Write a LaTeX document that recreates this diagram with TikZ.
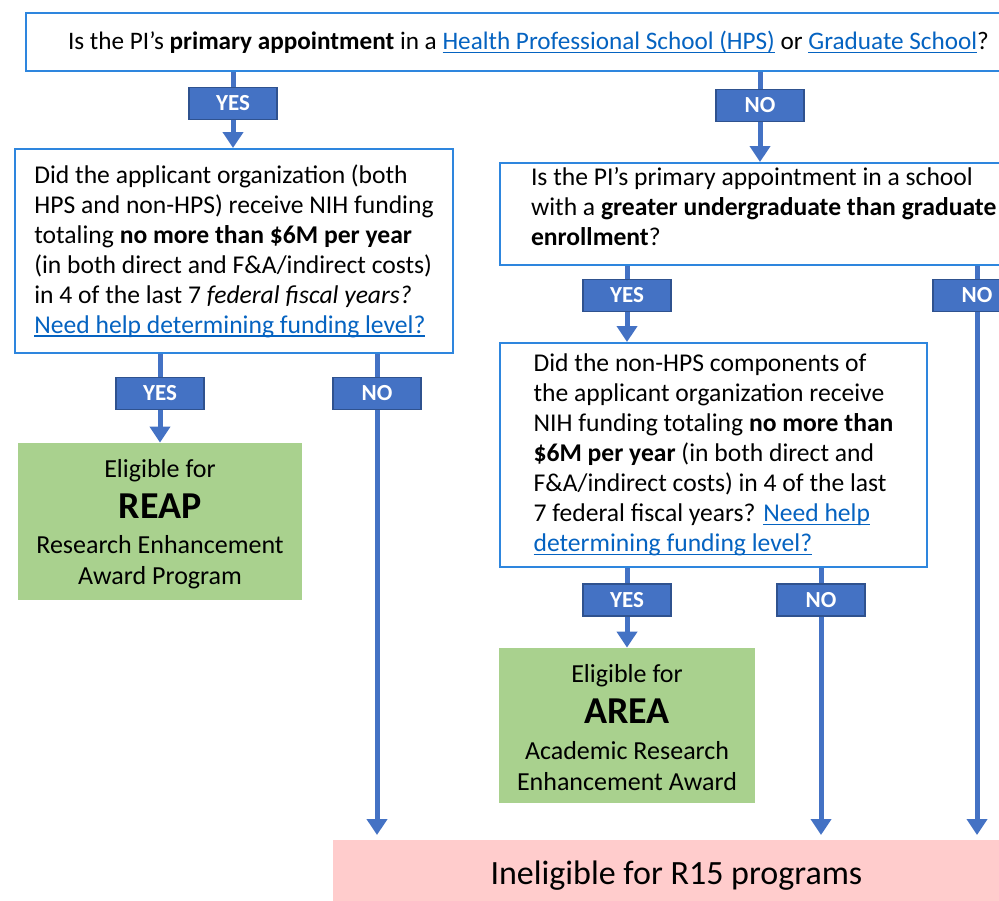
\documentclass[tikz,border=0pt]{standalone}
\usepackage{fontspec}
\setmainfont{Carlito}
\usepackage{tikz}
\usetikzlibrary{positioning,arrows.meta,backgrounds,calc}
\definecolor{qblue}{HTML}{2E86DE}
\definecolor{tagblue}{HTML}{4472C4}
\definecolor{tagedge}{HTML}{2F528F}
\definecolor{linkblue}{HTML}{0563C1}
\definecolor{okgreen}{HTML}{A9D18E}
\definecolor{nopink}{HTML}{FFCCCC}
\tikzstyle{qbox} = [rectangle, draw=qblue, line width=1pt, fill=white, %
   align=left, font=\fontsize{12.8}{15}\selectfont]
\tikzstyle{tag} = [rectangle, draw=tagedge, line width=0.8pt, fill=tagblue, %
   text=white, inner sep=0pt, minimum width=44pt, minimum height=16pt, %
   font=\fontsize{11.5}{13}\selectfont\bfseries]
\tikzstyle{result} = [rectangle, fill=okgreen, align=center, %
   font=\fontsize{13}{15}\selectfont]
\tikzstyle{line} = [draw=tagblue, line width=2.5pt]
\tikzstyle{arrow} = [line, -{Triangle[width=10pt,length=8pt]}]
\newcommand{\lnk}[1]{{\color{linkblue}\setbox0\hbox{#1}%
   \rlap{\rule[-1.8pt]{\wd0}{0.65pt}}\box0}}
\newcommand{\award}[1]{{\fontsize{19}{21}\selectfont\bfseries #1}}

\begin{document}
\begin{tikzpicture}[x=0.5pt,y=-0.5pt]
   \useasboundingbox (0,0) rectangle (999,900);
   \clip (0,0) rectangle (999,900);

   % Question boxes %%%%%%%%%%%%%%%%%%%%%%%%%%%%%%%%%%%%%%%%%%%%%%%%%%%
      \node[qbox, anchor=north west, minimum width=502.5pt, minimum height=29pt, align=center, %
         font=\fontsize{12.6}{15}\selectfont](primary) at (25,12){%
         Is the PI’s \textbf{primary appointment} in a \lnk{Health Professional School (HPS)} or \lnk{Graduate School}?};

      \node[qbox, anchor=north west, minimum width=219pt, minimum height=102pt, inner xsep=8pt](fundall) at (14,148){%
         Did the applicant organization (both\\
         HPS and non-HPS) receive NIH funding\\
         totaling \textbf{no more than \$6M per year}\\
         (in both direct and F\&A/indirect costs)\\
         in 4 of the last 7 \textit{federal fiscal years?}\\
         \lnk{Need help determining funding level?}};

      \node[qbox, anchor=north west, minimum height=51pt, inner xsep=15.5pt, inner ysep=0pt](undergrad) at (499,162){%
         Is the PI’s primary appointment in a school\\
         with a \textbf{greater undergraduate than graduate}\\
         \textbf{enrollment}?\\[-7pt]\mbox{}};

      \node[qbox, anchor=north west, minimum width=213.5pt, minimum height=112pt](fundnon) at (499,342){%
         Did the non-HPS components of\\
         the applicant organization receive\\
         NIH funding totaling \textbf{no more than}\\
         \textbf{\$6M per year} (in both direct and\\
         F\&A/indirect costs) in 4 of the last\\
         7 federal fiscal years? \lnk{Need help}\\
         \lnk{determining funding level?}};

   % Outcomes %%%%%%%%%%%%%%%%%%%%%%%%%%%%%%%%%%%%%%%%%%%%%%%%%%%%%%%%%%
      \node[result, minimum width=142pt, minimum height=78.5pt](reap) at (160,521.5){%
         \mbox{}\\[-3pt]
         Eligible for\\[5.5pt]
         \award{REAP}\\[2.5pt]
         Research Enhancement\\[0.5pt]
         Award Program};

      \node[result, minimum width=128pt, minimum height=77.5pt](area) at (627,725.5){%
         \mbox{}\\[-3.5pt]
         Eligible for\\[5.5pt]
         \award{AREA}\\[3pt]
         Academic Research\\[0.5pt]
         Enhancement Award};

      \node[fill=nopink, anchor=north west, minimum width=343pt, minimum height=35pt, %
         font=\fontsize{17}{20}\selectfont](inelig) at (333,840){Ineligible for R15 programs};

   % Answer tags %%%%%%%%%%%%%%%%%%%%%%%%%%%%%%%%%%%%%%%%%%%%%%%%%%%%%%%
      \node[tag](yesA) at (233,103.5){YES};
      \node[tag](noA) at (760,105.5){NO};
      \node[tag](yesB) at (160,393.5){YES};
      \node[tag](noB) at (377,393.5){NO};
      \node[tag](yesC) at (627,295.5){YES};
      \node[tag](noC) at (977,295.5){NO};
      \node[tag](yesD) at (627,600){YES};
      \node[tag](noD) at (821,600){NO};

      % Draw edges
      \path [line] (primary.south -| yesA) -- (yesA);
      \path [arrow] (yesA) -- (fundall.north -| yesA);
      \path [line] (primary.south -| noA) -- (noA);
      \path [arrow] (noA) -- (undergrad.north -| noA);

      \path [line] (fundall.south -| yesB) -- (yesB);
      \path [arrow] (yesB) -- (reap);
      \path [line] (fundall.south -| noB) -- (noB);
      \path [arrow, shorten >=2.5pt] (noB) -- (inelig.north -| noB);

      \path [line] (undergrad.south -| yesC) -- (yesC);
      \path [arrow] (yesC) -- (fundnon.north -| yesC);
      \path [line] (undergrad.south -| noC) -- (noC);
      \path [arrow, shorten >=2.5pt] (noC) -- (inelig.north -| noC);

      \path [line] (fundnon.south -| yesD) -- (yesD);
      \path [arrow] (yesD) -- (area);
      \path [line] (fundnon.south -| noD) -- (noD);
      \path [arrow, shorten >=2.5pt] (noD) -- (inelig.north -| noD);

\end{tikzpicture}
\end{document}
